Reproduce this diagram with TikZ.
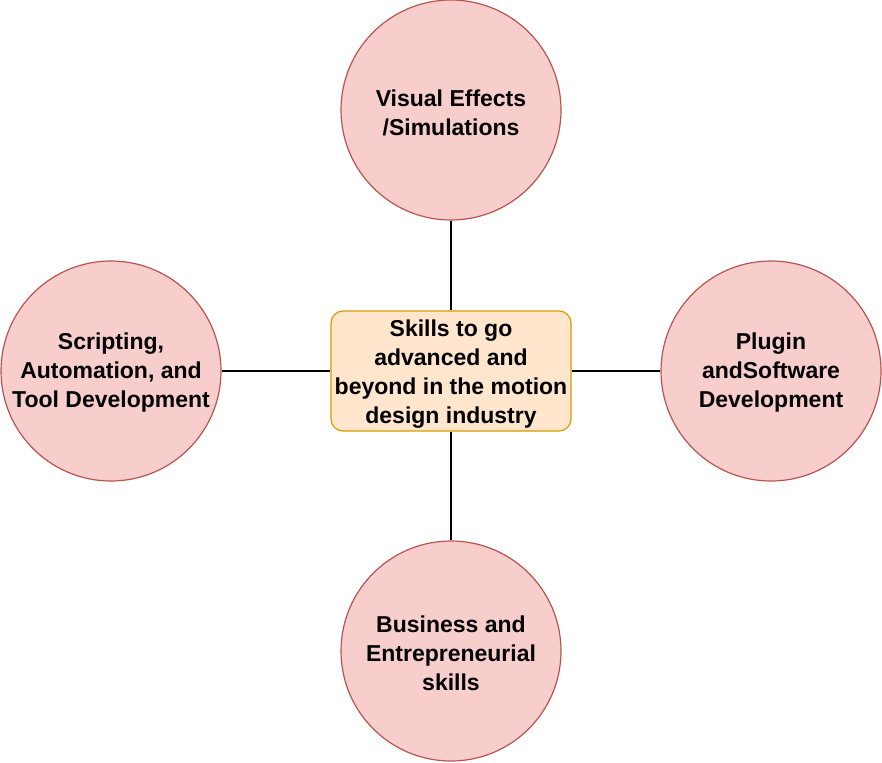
\documentclass[tikz,border=0pt]{standalone}
\usepackage{fontspec}
\setmainfont{Liberation Sans}
\definecolor{cfill}{HTML}{F8CECC}
\definecolor{cdraw}{HTML}{B85450}
\definecolor{bfill}{HTML}{FFE6CC}
\definecolor{bdraw}{HTML}{D79B00}
\begin{document}
\begin{tikzpicture}[x=1pt,y=-1pt,
  topic/.style={circle,draw=cdraw,fill=cfill,line width=1.2pt,minimum size=220pt,inner sep=0pt},
  hub/.style={rounded corners=12pt,draw=bdraw,fill=bfill,line width=1.2pt,minimum width=240pt,minimum height=120pt,inner sep=0pt},
  lbl/.style={inner sep=0pt,align=center,font=\fontsize{23}{29}\selectfont\bfseries},
  link/.style={draw=black,line width=1.2pt}]
\useasboundingbox (0,0) rectangle (882,762);
\node[hub] (c) at (451,371) {};
\node[topic] (t) at (451,110) {};
\node[topic] (l) at (111,371) {};
\node[topic] (r) at (771,371) {};
\node[topic] (b) at (451,651) {};
\node[lbl] (ct) at (451,374) {Skills to go\\advanced and\\beyond in the motion\\design industry};
\node[lbl] (tt) at (451,113) {Visual Effects\\/Simulations};
\node[lbl] (lt) at (111,373) {Scripting,\\Automation, and\\Tool Development};
\node[lbl] (rt) at (771,373) {Plugin\\andSoftware\\Development};
\node[lbl] (bt) at (451,653) {Business and\\Entrepreneurial\\skills};
\draw[link] (t) -- (c);
\draw[link] (l) -- (c);
\draw[link] (r) -- (c);
\draw[link] (b) -- (c);
\end{tikzpicture}
\end{document}
